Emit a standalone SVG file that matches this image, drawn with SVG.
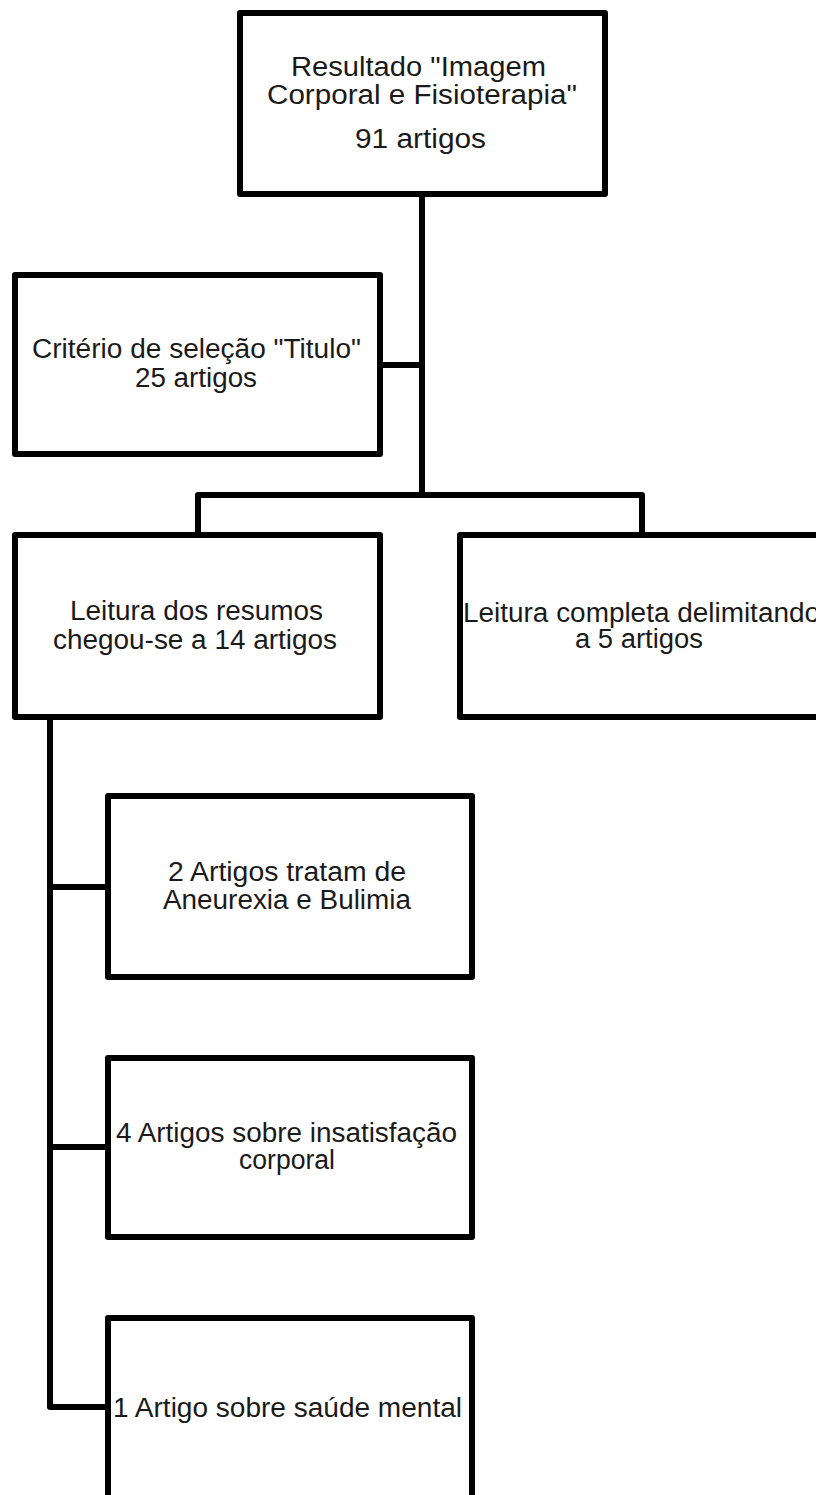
<svg xmlns="http://www.w3.org/2000/svg" width="816" height="1495" viewBox="0 0 816 1495">
<style>
.box{fill:#fff;stroke:#000;stroke-width:6;stroke-linejoin:round}
.con{fill:none;stroke:#000;stroke-width:6;stroke-linejoin:round}
text{font-family:"Liberation Sans",Arial,sans-serif;font-size:27px;fill:#1a1a1a}
</style>
<rect width="816" height="1495" fill="#fff"/>
<g id="connectors">
<path class="con" d="M422 194 V495"/>
<path class="con" d="M380 365 H422"/>
<path class="con" d="M198 535 V495 H642 V535"/>
<path class="con" d="M50 717 V1407 H108"/>
<path class="con" d="M50 887 H108"/>
<path class="con" d="M50 1147 H108"/>
</g>
<g id="n-resultado">
<rect class="box" x="240" y="13" width="365" height="181"/>
<text x="291" y="76" textLength="255" lengthAdjust="spacingAndGlyphs">Resultado "Imagem</text>
<text x="267" y="104" textLength="310" lengthAdjust="spacingAndGlyphs">Corporal e Fisioterapia"</text>
<text x="355" y="148" textLength="131" lengthAdjust="spacingAndGlyphs">91 artigos</text>
</g>
<g id="n-criterio">
<rect class="box" x="15" y="275" width="365" height="179"/>
<text x="32" y="358" textLength="329" lengthAdjust="spacingAndGlyphs">Critério de seleção "Titulo"</text>
<text x="135" y="387" textLength="122" lengthAdjust="spacingAndGlyphs">25 artigos</text>
</g>
<g id="n-resumos">
<rect class="box" x="15" y="535" width="365" height="182"/>
<text x="70" y="620" textLength="253" lengthAdjust="spacingAndGlyphs">Leitura dos resumos</text>
<text x="53" y="649" textLength="284" lengthAdjust="spacingAndGlyphs">chegou-se a 14 artigos</text>
</g>
<g id="n-completa">
<rect class="box" x="460" y="535" width="366" height="182"/>
<text x="463" y="622" textLength="357" lengthAdjust="spacingAndGlyphs">Leitura completa delimitando</text>
<text x="575" y="648" textLength="128" lengthAdjust="spacingAndGlyphs">a 5 artigos</text>
</g>
<g id="n-aneurexia">
<rect class="box" x="108" y="796" width="364" height="181"/>
<text x="168" y="881" textLength="238" lengthAdjust="spacingAndGlyphs">2 Artigos tratam de</text>
<text x="163" y="909" textLength="248" lengthAdjust="spacingAndGlyphs">Aneurexia e Bulimia</text>
</g>
<g id="n-insatisfacao">
<rect class="box" x="108" y="1058" width="364" height="179"/>
<text x="116" y="1142" textLength="341" lengthAdjust="spacingAndGlyphs">4 Artigos sobre insatisfação</text>
<text x="239" y="1169" textLength="96" lengthAdjust="spacingAndGlyphs">corporal</text>
</g>
<g id="n-saude">
<rect class="box" x="108" y="1318" width="364" height="182"/>
<text x="113" y="1417" textLength="349" lengthAdjust="spacingAndGlyphs">1 Artigo sobre saúde mental</text>
</g>
</svg>
